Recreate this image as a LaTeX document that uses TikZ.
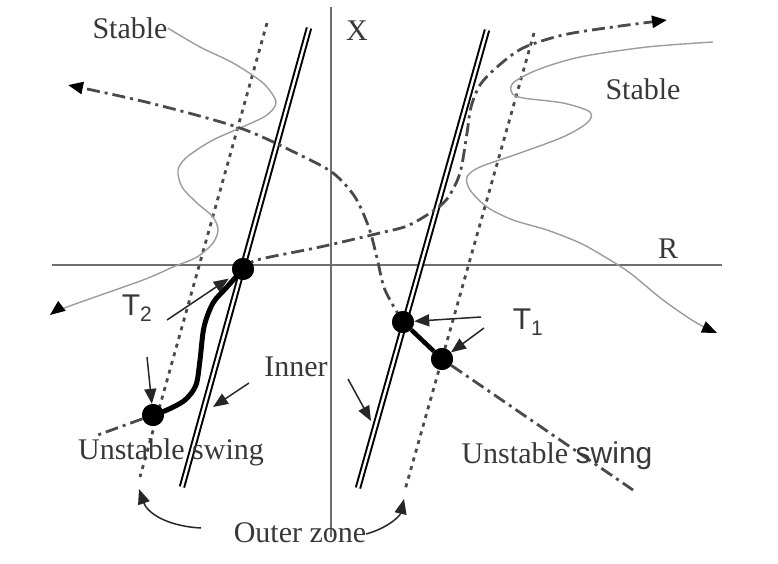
\documentclass[tikz,border=0pt]{standalone}
\usepackage{fontspec}
\setmainfont{Liberation Serif}
\setsansfont{Liberation Sans}
\usetikzlibrary{arrows.meta}
\definecolor{Axis}{HTML}{6E6E6E}
\definecolor{Swing}{HTML}{4A4A4A}
\definecolor{Calm}{HTML}{9C9C9C}

\begin{document}
\begin{tikzpicture}[x=1pt,y=-1pt,
    lbl/.style={font=\fontsize{30}{34}\selectfont,text=black!78,inner sep=0pt},
    tip/.style={-{Triangle[length=15pt,width=12pt,color=black]}},
    zoneline/.style={draw=black,line width=2pt,double=white,double distance=2.4pt},
    outerline/.style={Swing,line width=2.8pt,dash pattern=on 4pt off 5pt},
    swingpath/.style={Swing,line width=2.8pt,dash pattern=on 13pt off 5pt on 3pt off 5pt},
    stablepath/.style={Calm,line width=1.4pt},
    dot/.style={circle,fill=black,minimum size=22pt,inner sep=0pt},
    pointer/.style={black!85,line width=1.5pt,-{Triangle[length=15pt,width=12pt]}}]
        \useasboundingbox(0,0)rectangle(778,564);
        % axes
        \draw[Axis,line width=2pt](52,265)--(722,265);
        \draw[Axis,line width=2pt](331,7)--(331,537);
        \node[lbl]at(357,31)(xlab){X};
        \node[lbl]at(668,249)(rlab){R};
        % zone lines
        \draw[outerline](267,23)--(140,477);
        \draw[outerline](534,33)--(405,490);
        \draw[zoneline](309,28)--(182,487);
        \draw[zoneline](487,30)--(358,488);
        % swing points
        \node[dot]at(243,269)(P1){};
        \node[dot]at(153,415)(P2){};
        \node[dot]at(403,322)(P3){};
        \node[dot]at(442,359)(P4){};
        % stable swings
        \node[lbl]at(130,28)(stableL){Stable};
        \node[lbl]at(643,89)(stableR){Stable};
        \draw[stablepath,tip]plot[smooth]coordinates{(stableL.east)(200,47)(233,63)(263,83)(276,102)(267,115)(247,125)(213,140)(187,157)(178,170)(182,187)(197,203)(213,217)(218,230)(213,243)(197,257)(173,267)(143,280)(67,307)(50,315)};
        \draw[stablepath,tip]plot[smooth]coordinates{(713,42)(647,47)(580,57)(537,70)(513,83)(512,93)(523,98)(563,103)(590,112)(587,123)(563,137)(520,153)(480,167)(467,177)(470,190)(487,207)(513,220)(547,230)(580,243)(605,257)(630,273)(663,300)(695,322)(717,333)};
        % unstable swings
        \draw[swingpath,tip]plot[smooth]coordinates{(P3)(385,290)(377,258)(369,228)(355,197)(333,173)(300,155)(240,128)(150,103)(68,85)};
        \draw[swingpath,tip]plot[smooth]coordinates{(P1)(257,260)(320,247)(380,233)(407,226)(430,213)(447,199)(460,173)(467,133)(471,107)(480,85)(497,67)(523,48)(563,35)(613,27)(667,20)};
        \draw[swingpath](P4)--(633,490);
        \draw[swingpath](P2)--(95,436);
        \draw[line width=5pt]plot[smooth]coordinates{(P2)(167,410)(185,400)(196,385)(200,360)(204,327)(213,303)(227,287)(P1)};
        \draw[line width=4.5pt](P3)--(P4);
        \node[dot]at(P1){};
        \node[dot]at(P2){};
        \node[dot]at(P3){};
        \node[dot]at(P4){};
        % labels and pointers
        \node[lbl,font=\fontsize{30}{34}\sffamily]at(137,308)(tTwo){T\textsubscript{2}};
        \node[lbl,font=\fontsize{30}{34}\sffamily]at(528,322)(tOne){T\textsubscript{1}};
        \node[lbl]at(296,367)(inner){Inner};
        \node[lbl]at(171,452)(unstL){Unstable swing};
        \node[lbl]at(557,456)(unstR){Unstable {\sffamily swing}};
        \node[lbl]at(300,533)(outer){Outer zone};
        \coordinate(t2s)at(167,320);
        \coordinate(t1s)at(481,317);
        \coordinate(p4s)at(484,328);
        \coordinate(p2s)at(147,357);
        \coordinate(inLs)at(249,383);
        \coordinate(inLe)at(213,407);
        \coordinate(inRs)at(348,379);
        \coordinate(inRe)at(371,421);
        \coordinate(outLs)at(201,528);
        \coordinate(outLe)at(139,489);
        \coordinate(outRs)at(366,534);
        \coordinate(outRe)at(404,499);
        \draw[pointer,shorten >=6pt](t2s)--(P1);
        \draw[pointer](t1s)--(P3);
        \draw[pointer](p4s)--(P4);
        \draw[pointer](p2s)--(P2);
        \draw[pointer](inLs)--(inLe);
        \draw[pointer](inRs)--(inRe);
        \draw[pointer](outLs)..controls(165,526)and(147,512)..(outLe);
        \draw[pointer](outRs)..controls(388,528)and(400,516)..(outRe);
      \end{tikzpicture}
\end{document}
